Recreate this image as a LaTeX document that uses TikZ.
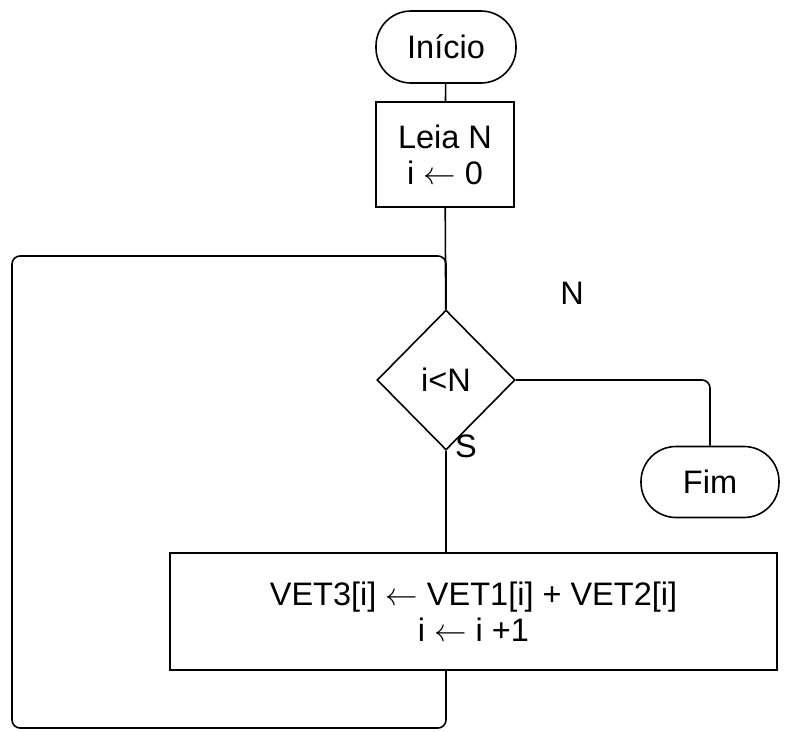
\documentclass[tikz,border=0pt]{standalone}
\usepackage{fontspec}
\setmainfont{Liberation Sans}
\newfontfamily\arrfont{latinmodern-math.otf}
\usetikzlibrary{shapes.geometric}
\newcommand{\myarr}{{\arrfont ←}}
\begin{document}
\begin{tikzpicture}[x=1pt,y=-1pt,
  every node/.style={font=\fontsize{32.5}{36}\selectfont, text=black},
  line/.style={draw=black, line width=1.6pt},
  term/.style={line, rectangle, rounded corners=35pt, minimum width=140pt, minimum height=72pt, inner sep=0pt},
  procbox/.style={line, rectangle, align=center, inner sep=0pt},
  decision/.style={line, diamond, inner sep=0pt, minimum width=138pt, minimum height=140pt}]
\useasboundingbox (0,0) rectangle (787,731);
\node[term] (inicio) at (446,47) {Início};
\node[procbox, minimum width=138pt, minimum height=105pt] (leia) at (445,154.5) {Leia N\\i \myarr{} 0};
\node[decision] (cond) at (446,380) {i<N};
\node[term, minimum width=138pt, minimum height=71pt] (fim) at (710,482) {Fim};
\node[procbox, minimum width=607pt, minimum height=117pt] (proc) at (473.5,611.5) {VET3[i] \myarr{} VET1[i] + VET2[i]\\i \myarr{} i +1};
\node (nlab) at (572,293) {N};
\node (slab) at (466,446) {S};
\coordinate (lb) at (12,728);
\coordinate (lt) at (12,256);
\draw[line] (inicio) -- (leia);
\draw[line] (leia) -- (cond);
\draw[line, rounded corners=8pt] (cond.east) -| (fim.north);
\draw[line] (cond.south) -- (cond.south |- proc.north);
\draw[line, rounded corners=8pt] (cond.south |- proc.south) |- (lb) -- (lt) -| (cond.north);
\end{tikzpicture}
\end{document}
